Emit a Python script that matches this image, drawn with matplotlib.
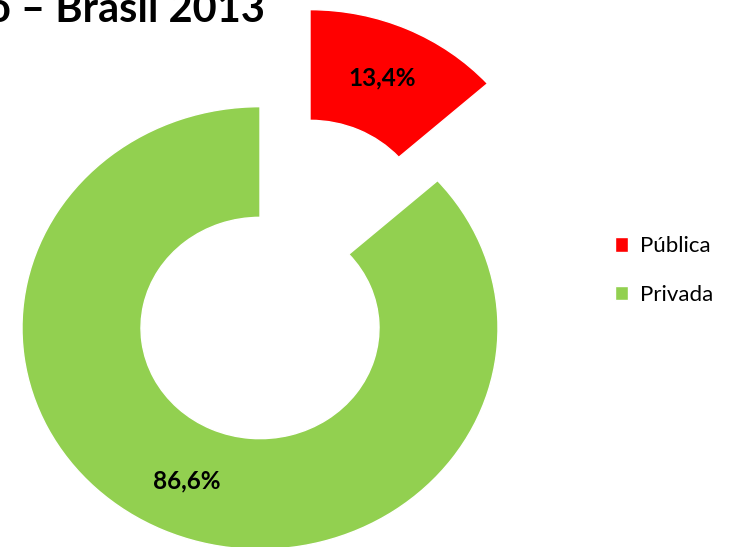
import matplotlib.pyplot as plt

# share of the market, Brasil 2013
labels = ["Pública", "Privada"]
values = [13.4, 86.6]
colors = ["#FF0000", "#92D050"]
pct_text = ["13,4%", "86,6%"]

plt.rcParams['font.family'] = ['Lato', 'DejaVu Sans']

# the donut in the original is slightly squashed vertically
squash = 0.93

fig = plt.figure(figsize=(7.32, 5.47), dpi=100)
ax = fig.add_axes([0, 0, 1, 1])

wedges, _ = ax.pie(values, colors=colors, startangle=90, counterclock=False,
                   center=(260, 219 / squash), radius=238, frame=True,
                   wedgeprops=dict(width=119, edgecolor='white', linewidth=1))
ax.set_aspect('auto')
ax.set_xlim(0, 732)
ax.set_ylim(0, 547 / squash)
ax.axis('off')

# pull the red slice out
wedges[0].set_center((310, 316 / squash))

ax.text(382, 469 / squash, pct_text[0], ha='center', va='center', fontsize=17.5, fontweight='bold')
ax.text(187, 66 / squash, pct_text[1], ha='center', va='center', fontsize=17.5, fontweight='bold')

ax.legend(wedges, labels, loc='center left', bbox_to_anchor=(0.813, 0.505),
          frameon=False, fontsize=16, handlelength=0.6, handleheight=0.6,
          handletextpad=0.5, labelspacing=1.3)

fig.text(265 / 732, 1 - 22 / 547, "o – Brasil 2013", fontsize=30, fontweight='bold',
         ha='right', va='baseline')

fig.savefig("out.png", dpi=100)
